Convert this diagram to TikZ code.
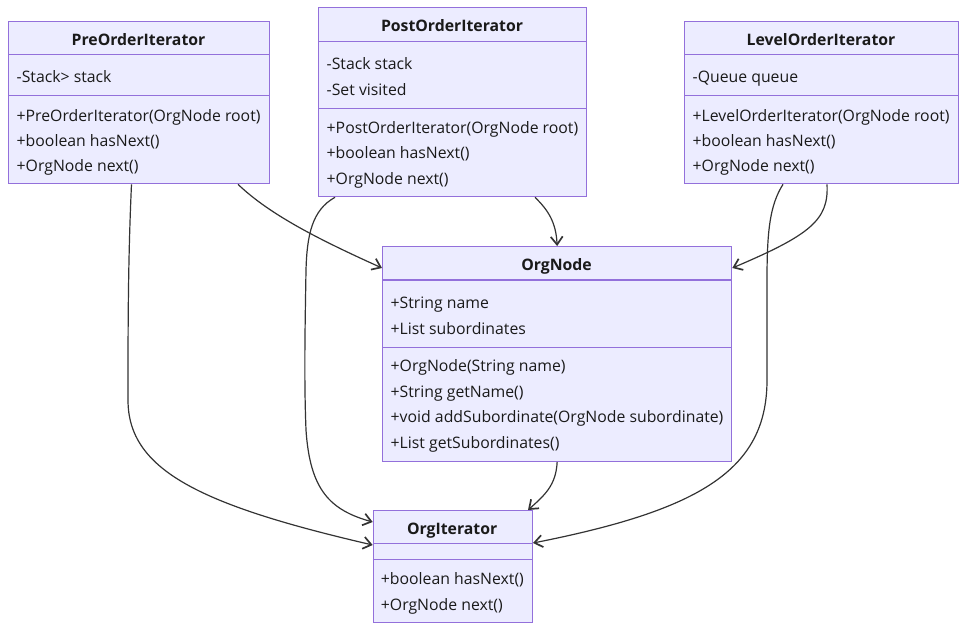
\documentclass[tikz,border=0pt]{standalone}
\usepackage{fontspec}
\setmainfont{Open Sans}
\usetikzlibrary{arrows.meta}
\definecolor{boxfill}{HTML}{ECECFF}
\definecolor{boxline}{HTML}{9370DB}
\definecolor{edgecol}{HTML}{333333}
\definecolor{txtcol}{HTML}{1A1A1A}
\tikzset{
  classbox/.style={draw=boxline, fill=boxfill, line width=1.3pt, anchor=north west, inner sep=0pt},
  divider/.style={draw=boxline, line width=1.2pt},
  member/.style={anchor=base west, inner sep=0pt, text=txtcol, font=\fontsize{15.8}{19}\selectfont},
  ctitle/.style={anchor=base, inner sep=0pt, text=txtcol, font=\fontsize{15.8}{19}\selectfont\bfseries},
  assoc/.style={draw=edgecol, line width=1.2pt, -{Straight Barb[length=8pt,width=12pt,line width=1.7pt]}},
}
\begin{document}
\begin{tikzpicture}[x=1pt,y=-1pt]
\useasboundingbox (0,0) rectangle (966,630);

% PreOrderIterator
\node[classbox, minimum width=261pt, minimum height=162pt] (pre) at (8,21) {};
\draw[divider] (8,54.3) -- (269,54.3);
\draw[divider] (8,95.7) -- (269,95.7);
\node[ctitle] (pre-t) at (138.5,45) {PreOrderIterator};
\node[member] (pre-a1) at (16.5,82.7) {-Stack> stack};
\node[member] (pre-m1) at (16.5,121) {+PreOrderIterator(OrgNode root)};
\node[member] (pre-m2) at (16.5,146) {+boolean hasNext()};
\node[member] (pre-m3) at (16.5,171.7) {+OrgNode next()};

% PostOrderIterator
\node[classbox, minimum width=268pt, minimum height=189pt] (post) at (318,7) {};
\draw[divider] (318,41.7) -- (586,41.7);
\draw[divider] (318,108.3) -- (586,108.3);
\node[ctitle] (post-t) at (452,31.7) {PostOrderIterator};
\node[member] (post-a1) at (326.5,69.3) {-Stack stack};
\node[member] (post-a2) at (326.5,95) {-Set visited};
\node[member] (post-m1) at (326.5,133.3) {+PostOrderIterator(OrgNode root)};
\node[member] (post-m2) at (326.5,158.5) {+boolean hasNext()};
\node[member] (post-m3) at (326.5,184) {+OrgNode next()};

% LevelOrderIterator
\node[classbox, minimum width=274pt, minimum height=162pt] (level) at (684,21) {};
\draw[divider] (684,54.3) -- (958,54.3);
\draw[divider] (684,95.7) -- (958,95.7);
\node[ctitle] (level-t) at (821,45) {LevelOrderIterator};
\node[member] (level-a1) at (692.5,82.7) {-Queue queue};
\node[member] (level-m1) at (692.5,121) {+LevelOrderIterator(OrgNode root)};
\node[member] (level-m2) at (692.5,146) {+boolean hasNext()};
\node[member] (level-m3) at (692.5,171.7) {+OrgNode next()};

% OrgNode
\node[classbox, minimum width=349pt, minimum height=214.7pt] (orgnode) at (382,246) {};
\draw[divider] (382,280) -- (731,280);
\draw[divider] (382,347.3) -- (731,347.3);
\node[ctitle] (orgnode-t) at (556.5,270.7) {OrgNode};
\node[member] (orgnode-a1) at (390.5,308.3) {+String name};
\node[member] (orgnode-a2) at (390.5,334) {+List subordinates};
\node[member] (orgnode-m1) at (390.5,371.7) {+OrgNode(String name)};
\node[member] (orgnode-m2) at (390.5,397) {+String getName()};
\node[member] (orgnode-m3) at (390.5,422.7) {+void addSubordinate(OrgNode subordinate)};
\node[member] (orgnode-m4) at (390.5,448.3) {+List getSubordinates()};

% OrgIterator
\node[classbox, minimum width=159pt, minimum height=112pt] (orgit) at (372.7,510) {};
\draw[divider] (372.7,543.3) -- (531.7,543.3);
\draw[divider] (372.7,559.3) -- (531.7,559.3);
\node[ctitle] (orgit-t) at (452.2,534) {OrgIterator};
\node[member] (orgit-m1) at (380.7,584) {+boolean hasNext()};
\node[member] (orgit-m2) at (380.7,610) {+OrgNode next()};

% Connectors
\draw[assoc] ([xshift=123.5pt]pre.south west) .. controls (128,260) and (128,330) .. (128,400)
  .. controls (128,470) and (200,505) .. ([yshift=-35pt]orgit.north west);
\draw[assoc] ([xshift=17pt]post.south west) .. controls (312,210) and (307,235) .. (306,270)
  .. controls (305,330) and (304,380) .. (306,430)
  .. controls (310,490) and (330,510) .. ([yshift=-12pt]orgit.north west);
\draw[assoc] ([xshift=230pt]pre.south west) .. controls (270,215) and (320,240) .. ([yshift=-22pt]orgnode.north west);
\draw[assoc] ([xshift=217pt]post.south west) .. controls (548,210) and (556,222) .. (orgnode.north);
\draw[assoc] ([xshift=143pt]level.south west) .. controls (829,220) and (810,235) .. ([yshift=-22pt]orgnode.north east);
\draw[assoc] ([xshift=99pt]level.south west) .. controls (770,205) and (767,230) .. (767,280)
  -- (767,380) .. controls (767,470) and (700,510) .. ([yshift=-33pt]orgit.north east);
\draw[assoc] (orgnode.south) .. controls (556,485) and (545,495) .. ([xshift=-5pt]orgit.north east);
\end{tikzpicture}
\end{document}
